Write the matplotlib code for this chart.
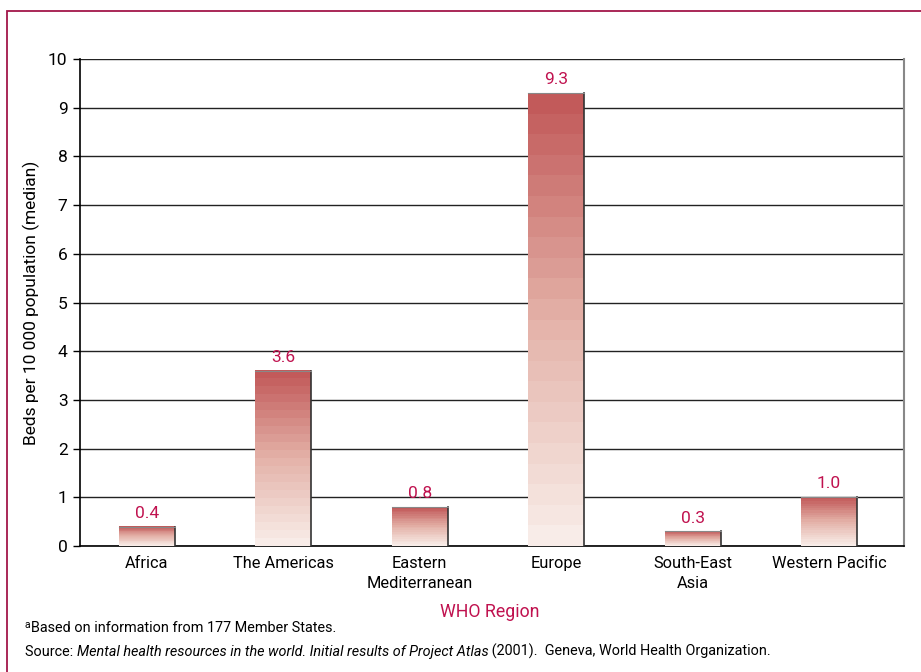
import numpy as np
import matplotlib.pyplot as plt
from matplotlib.colors import LinearSegmentedColormap
from matplotlib.patches import Rectangle

# Datos
regiones = ['Africa', 'The Americas', 'Eastern\nMediterranean', 'Europe', 'South-East\nAsia', 'Western Pacific']
camas = [0.4, 3.6, 0.8, 9.3, 0.3, 1.0]
etiquetas = ['0.4', '3.6', '0.8', '9.3', '0.3', '1.0']

plt.rcParams['font.family'] = ['Liberation Sans Narrow', 'Roboto', 'DejaVu Sans']
rojo = '#c0124f'

fig = plt.figure(figsize=(9.21, 6.72), dpi=100)
ax = fig.add_axes([0.0869, 0.1875, 0.8947, 0.7247])

x = np.arange(len(regiones))
barras = ax.bar(x, camas, width=0.41, color='none', edgecolor='none', zorder=3)

# degradado escalonado dentro de cada barra
cmap = LinearSegmentedColormap.from_list('rosa', ['#f8ece8', '#e4b2a8', '#c25a5a'])
pasos = 22
grad = np.linspace(0, 1, pasos).reshape(-1, 1)
for b in barras:
    x0, w, h = b.get_x(), b.get_width(), b.get_height()
    ax.imshow(grad, extent=(x0, x0 + w, 0, h), origin='lower', cmap=cmap,
              aspect='auto', interpolation='nearest', zorder=3)
    ax.plot([x0 + w, x0 + w], [0, h], color='#333333', lw=1.2, zorder=4)
    ax.plot([x0, x0 + w], [h, h], color='#888888', lw=0.8, zorder=4)

for xi, v, t in zip(x, camas, etiquetas):
    ax.text(xi, v + 0.12, t, ha='center', va='bottom', color=rojo, fontsize=12.5)

ax.set_xlim(-0.49, len(regiones) - 0.45)
ax.set_ylim(0, 10)
ax.set_yticks(range(0, 11))
ax.set_xticks(x)
ax.set_xticklabels(regiones, fontsize=11.8, linespacing=1.4)
ax.tick_params(axis='x', length=0, pad=7)
ax.tick_params(axis='y', length=5, width=1, labelsize=12.5, pad=4)
ax.yaxis.grid(True, color='#222222', lw=1.0, zorder=1)
ax.set_axisbelow(True)
ax.spines['top'].set_visible(False)
ax.spines['right'].set_color('#888888')
ax.spines['right'].set_linewidth(1.5)
ax.spines['left'].set_linewidth(1.2)
ax.spines['bottom'].set_linewidth(1.2)
ax.set_ylabel('Beds per 10 000 population (median)', fontsize=12.5, labelpad=6)

fig.text(0.532, 0.089, 'WHO Region', ha='center', va='center', color=rojo, fontsize=12.8)

# notas al pie
fig.text(0.027, 0.066, 'a', fontsize=7.5, va='baseline')
fig.text(0.034, 0.059, 'Based on information from 177 Member States.', fontsize=10.4, va='baseline')
t1 = fig.text(0.027, 0.024, 'Source: ', fontsize=10.4, va='baseline')
t2 = ax.annotate('Mental health resources in the world. Initial results of Project Atlas',
                 xy=(1, 0), xycoords=t1, fontsize=10.4, style='italic', va='bottom',
                 annotation_clip=False)
ax.annotate(' (2001).  Geneva, World Health Organization.', xy=(1, 0), xycoords=t2,
            fontsize=10.4, va='bottom', annotation_clip=False)

# marco
fig.patches.append(Rectangle((0.0075, -0.1), 1.2, 1.0836, transform=fig.transFigure,
                             fill=False, edgecolor='#a3174a', lw=1.3, figure=fig))

fig.savefig('out.png', dpi=100)
